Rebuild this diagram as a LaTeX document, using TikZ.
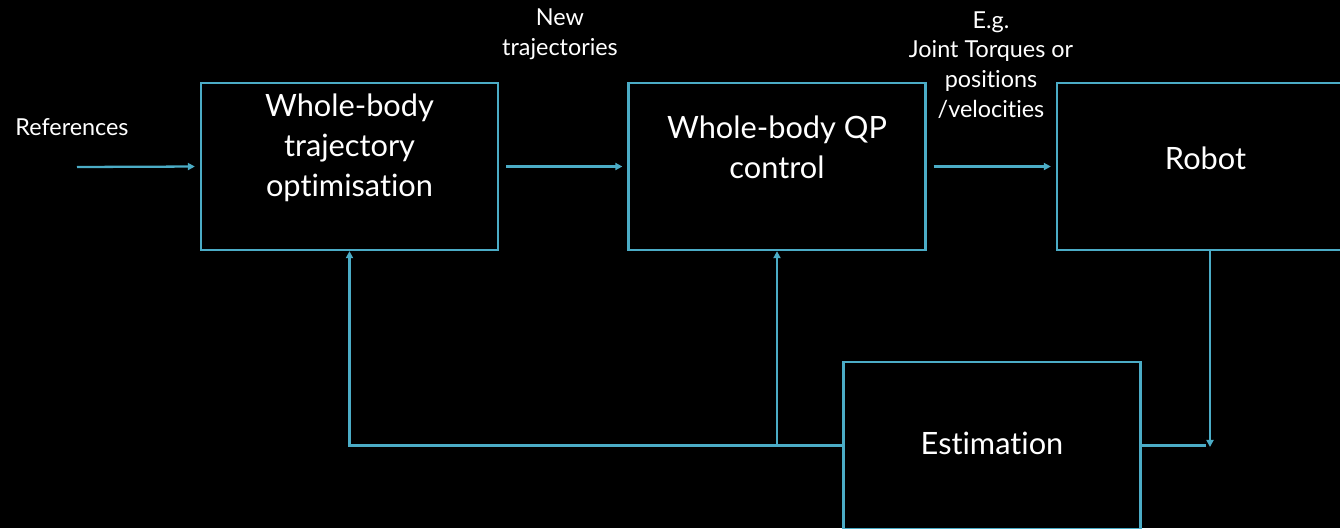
\documentclass[tikz,border=0pt]{standalone}
\usepackage{fontspec}
\setmainfont{Lato}[Ligatures={NoCommon,NoRare,NoContextual}]
\usetikzlibrary{arrows.meta}
\definecolor{linec}{HTML}{4BACC6}
\tikzset{
  box/.style={draw=linec, line width=1.3pt, minimum width=297*0.02cm, minimum height=167*0.02cm, inner sep=0pt},
  big/.style={text=white, font=\fontsize{17.5}{22.7}\selectfont, align=center, inner sep=0pt},
  small/.style={text=white, font=\fontsize{13.3}{17}\selectfont, align=center, inner sep=0pt},
  conn/.style={draw=linec, line width=1.3pt},
  arr/.style={conn, -{Triangle[length=4pt,width=4pt]}},
}
\begin{document}
\begin{tikzpicture}[x=0.02cm,y=-0.02cm]
\fill[black] (0,0) rectangle (1340,528);
\useasboundingbox (0,0) rectangle (1340,528);
\clip (0,0) rectangle (1340,528);
% boxes
\node[box] (wbto) at (349.5,166.5) {};
\node[box] (qp) at (777,166.5) {};
\node[box] (robot) at (1205.5,166.5) {};
\node[box] (est) at (992,445.5) {};
% box texts
\node[big] (twbto) at (349.5,148) {Whole-body\\trajectory\\optimisation};
\node[big] (tqp) at (777,147) {Whole-body QP\\control};
\node[big] (trobot) at (1205.5,158) {Robot};
\node[big] (test) at (992,443) {Estimation};
% labels
\node[small] (lref) at (72,127) {References};
\node[small] (lnew) at (560,34) {New\\trajectories};
\node[small] (leg) at (991,65) {E.g.\\Joint Torques or\\positions\\/velocities};
% connectors
\coordinate (refin) at (77,167);
\coordinate (down) at (1210,447);
\draw[arr, shorten >=5*0.5669pt] (refin) -- (wbto.west);
\draw[arr, shorten <=7*0.5669pt, shorten >=5*0.5669pt] (wbto.east) -- (qp.west);
\draw[arr, shorten <=7*0.5669pt, shorten >=5*0.5669pt] (qp.east) -- (robot.west);
\draw[arr] (robot.south -| down) -- (down);
\draw[conn, shorten >=4*0.5669pt] (est.east) -- (est.east -| down);
\draw[arr] (est.west) -- (est.west -| wbto.south) -- (wbto.south);
\draw[arr] (est.west -| qp.south) -- (qp.south);
\end{tikzpicture}
\end{document}
